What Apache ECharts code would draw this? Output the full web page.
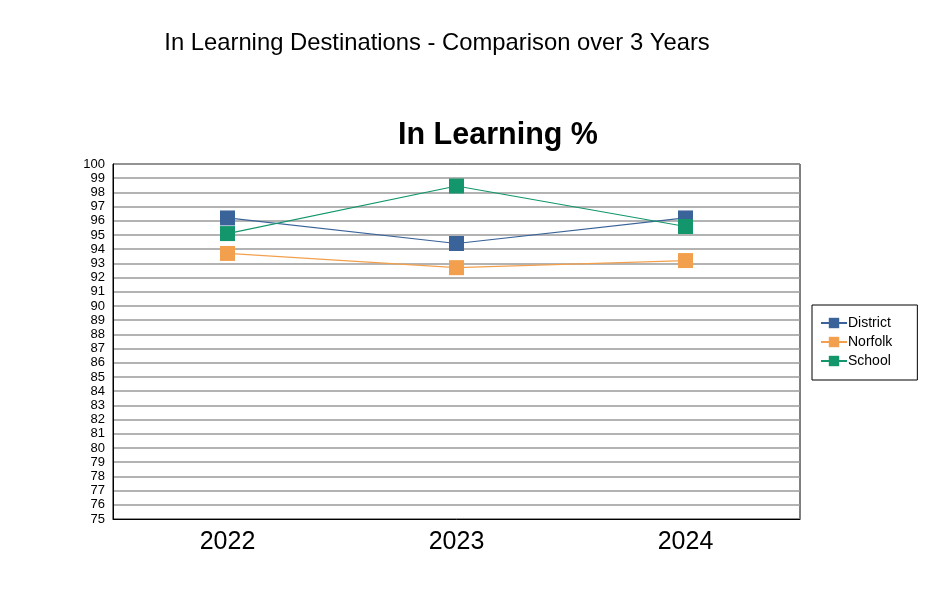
<!DOCTYPE html>
<html><head><meta charset="utf-8">
<script src="https://cdn.jsdelivr.net/npm/echarts@6/dist/echarts.min.js"></script>
<style>html,body{margin:0;padding:0;background:#fff}#c{width:940px;height:609px}</style>
</head><body><div id="c"></div>
<script>
const categories = ['2022', '2023', '2024'];
const district = [96.2, 94.4, 96.2];
const norfolk = [93.7, 92.7, 93.2];
const school = [95.1, 98.45, 95.6];
const seriesNames = ['District', 'Norfolk', 'School'];
const colors = ['#3a6399', '#f2a04d', '#13966c'];

const chart = echarts.init(document.getElementById('c'));
const mk = (name, data, color) => ({
  name, type: 'line', data, symbol: 'rect', symbolSize: 15,
  itemStyle: { color }, lineStyle: { color, width: 1.2 }, z: 3
});
chart.setOption({
  animation: false,
  title: [
    { text: 'In Learning Destinations - Comparison over 3 Years', left: 432, top: 26, textAlign: 'center',
      textStyle: { fontFamily: 'Liberation Sans, Arial', fontWeight: 'normal', fontSize: 23.8, color: '#000' } },
    { text: 'In Learning %', left: 493, top: 115, textAlign: 'center',
      textStyle: { fontFamily: 'Liberation Sans, Arial', fontWeight: 'bold', fontSize: 30.5, color: '#000' } }
  ],
  grid: { left: 113, right: 140, top: 164, bottom: 90, show: true, borderColor: '#000', borderWidth: 1 },
  legend: {
    data: seriesNames, orient: 'vertical', left: 812, top: 305, itemGap: 5,
    itemWidth: 26, itemHeight: 13, borderColor: '#000', borderWidth: 1, padding: [11, 25, 12, 8],
    textStyle: { fontFamily: 'Liberation Sans, Arial', fontSize: 14, color: '#000', padding: [0, 0, 0, -4] }
  },
  xAxis: {
    type: 'category', data: categories, boundaryGap: true,
    axisLine: { lineStyle: { color: '#000' } }, axisTick: { show: false },
    axisLabel: { fontFamily: 'Liberation Sans, Arial', fontSize: 25, color: '#000', margin: 11 }
  },
  yAxis: {
    type: 'value', min: 75, max: 100, interval: 1,
    axisLine: { show: true, lineStyle: { color: '#000' } }, axisTick: { show: false },
    axisLabel: { fontFamily: 'Liberation Sans, Arial', fontSize: 13, color: '#000', margin: 8, lineHeight: 13 },
    splitLine: { lineStyle: { color: '#9a9a9a', width: 1.5 } }
  },
  series: [mk('District', district, colors[0]), mk('Norfolk', norfolk, colors[1]), mk('School', school, colors[2])]
});
</script></body></html>
